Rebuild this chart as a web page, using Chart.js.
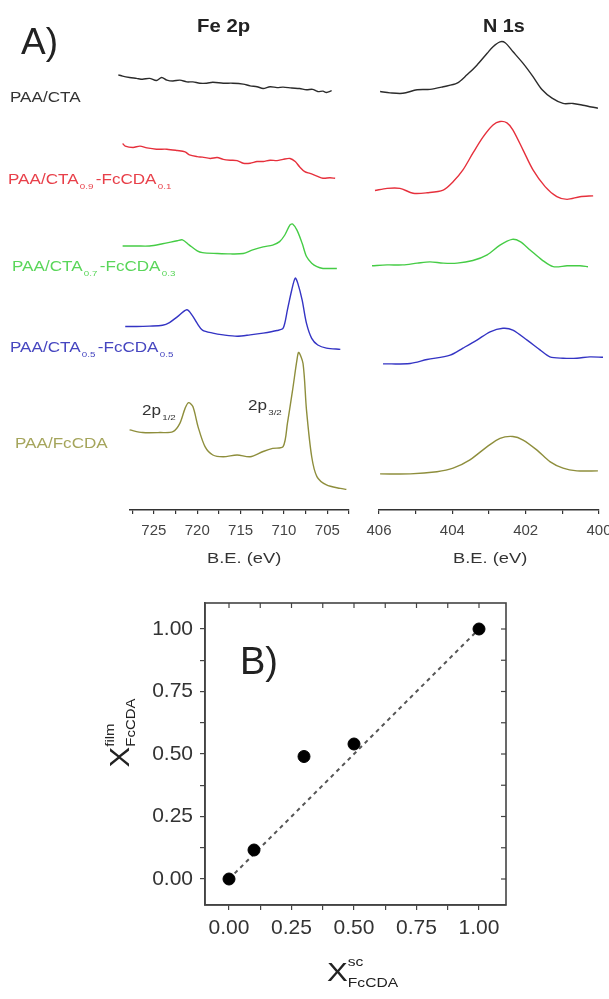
<!DOCTYPE html>
<html><head><meta charset="utf-8">
<script src="https://cdn.jsdelivr.net/npm/chart.js@4"></script>
<style>
body{margin:0;background:#fff;width:609px;height:999px;overflow:hidden;position:relative;font-family:'Liberation Sans',Arial,sans-serif;}
canvas{position:absolute;}
.t{position:absolute;white-space:nowrap;line-height:1;transform-origin:0 0;}
.lab{font-size:14px;transform:scaleX(1.22);}
.lab sub{font-size:8px;vertical-align:baseline;position:relative;top:5px;margin:0 2px 0 1px;}
.stack{display:inline-flex;flex-direction:column;vertical-align:middle;line-height:1;}
</style></head><body>
<canvas id="fe" width="360" height="575" style="left:0;top:0"></canvas>
<canvas id="n1s" width="249" height="575" style="left:360px;top:0"></canvas>
<canvas id="xy" width="609" height="419" style="left:0;top:580px"></canvas>

<div class="t" style="left:21px;top:23px;font-size:37px;color:#222">A)</div>
<div class="t" style="left:197px;top:17px;font-size:18px;font-weight:bold;color:#222;transform:scaleX(1.13)">Fe 2p</div>
<div class="t" style="left:483px;top:17px;font-size:18px;font-weight:bold;color:#222;transform:scaleX(1.1)">N 1s</div>

<div class="t lab" style="left:10px;top:90px;color:#333">PAA/CTA</div>
<div class="t lab" style="left:8px;top:172px;color:#e8404a">PAA/CTA<sub>0.9</sub>-FcCDA<sub>0.1</sub></div>
<div class="t lab" style="left:12px;top:259px;color:#5ad65a">PAA/CTA<sub>0.7</sub>-FcCDA<sub>0.3</sub></div>
<div class="t lab" style="left:10px;top:340px;color:#4646c0">PAA/CTA<sub>0.5</sub>-FcCDA<sub>0.5</sub></div>
<div class="t lab" style="left:15px;top:436px;color:#a5a55c">PAA/FcCDA</div>

<div class="t lab" style="left:142px;top:403px;color:#333">2p<sub style="font-size:8px">1/2</sub></div>
<div class="t lab" style="left:248px;top:398px;color:#333">2p<sub style="font-size:8px">3/2</sub></div>

<div class="t" style="left:207px;top:550px;font-size:15px;color:#333;transform:scaleX(1.22)">B.E. (eV)</div>
<div class="t" style="left:453px;top:550px;font-size:15px;color:#333;transform:scaleX(1.22)">B.E. (eV)</div>

<div class="t" style="left:240px;top:642px;font-size:38px;color:#222">B)</div>

<div class="t" style="left:80px;top:708px;width:80px;height:50px;transform-origin:50% 50%;transform:rotate(-90deg) scaleX(1.15);display:flex;align-items:center;justify-content:center;color:#222">
  <span style="font-size:27px">X</span><span class="stack" style="font-size:13px"><span style="margin-bottom:8px">film</span><span>FcCDA</span></span>
</div>
<div class="t" style="left:327px;top:955px;display:flex;align-items:center;color:#222;transform:scaleX(1.2)">
  <span style="font-size:26px">X</span><span class="stack" style="font-size:13px"><span style="margin-bottom:8px">sc</span><span>FcCDA</span></span>
</div>

<script>
// ---------- Panel A data (binding energy in eV, intensity in a.u.) ----------
const sampleNames = ['PAA/CTA','PAA/CTA0.9-FcCDA0.1','PAA/CTA0.7-FcCDA0.3','PAA/CTA0.5-FcCDA0.5','PAA/FcCDA'];

// Fe 2p
const fe_be_0 = [729.1,728.6,727.8,727.0,726.3,725.5,724.7,724.1,723.5,722.8,722.0,721.2,720.5,719.7,718.9,718.2,717.0,715.9,714.7,713.9,713.1,712.4,711.6,710.8,710.1,709.1,708.2,707.4,706.7,706.1,705.5,705.1,704.5];
const fe_int_0 = [8.9,8.6,8.3,8.1,7.9,8.1,7.6,8.3,7.7,7.5,7.7,7.3,7.3,7.0,7.0,7.2,7.0,7.0,6.8,6.4,6.2,5.8,6.2,6.0,6.1,5.9,5.8,5.5,5.6,5.1,5.2,4.9,5.3];
const fe_be_1 = [728.6,728.3,727.4,726.6,725.8,724.7,723.5,722.3,721.4,720.9,720.0,719.4,718.5,717.7,717.0,716.2,715.4,714.7,713.9,713.1,712.4,711.6,710.8,710.1,709.3,708.7,708.2,707.6,707.0,706.2,705.5,704.7,704.1];
const fe_int_1 = [9.3,8.7,8.4,8.7,8.3,8.0,8.0,7.7,7.4,6.7,6.3,6.2,5.9,6.1,5.7,5.5,5.4,4.8,4.8,5.2,5.2,5.5,5.4,5.7,5.9,5.2,4.0,2.9,2.5,1.9,1.4,1.5,1.4];
const fe_be_2 = [728.6,727.0,725.5,724.0,722.3,721.7,720.9,720.0,719.4,717.7,716.2,714.7,713.6,712.4,711.3,710.5,709.9,709.3,709.0,708.5,707.9,707.4,706.8,706.2,705.5,704.7,703.9];
const fe_int_2 = [6.0,6.0,6.0,6.5,7.2,7.4,6.2,4.9,4.5,4.3,4.2,4.3,5.1,5.8,6.2,7.0,8.5,10.8,11.0,9.6,6.6,3.6,2.1,1.3,0.9,0.9,0.9];
const fe_be_3 = [728.3,727.0,725.5,724.0,723.2,722.3,721.2,720.6,720.0,719.4,718.2,717.0,715.4,713.9,712.4,710.8,710.1,709.6,709.1,708.7,708.4,707.9,707.4,706.8,706.1,705.1,703.5];
const fe_int_3 = [5.7,5.7,5.8,6.0,6.6,7.9,9.5,8.3,6.4,4.9,4.2,3.8,3.5,3.8,4.2,4.8,5.3,9.5,14.0,16.7,15.5,11.7,6.4,3.0,1.5,0.8,0.5];
const fe_be_4 = [727.8,726.3,724.3,722.8,722.0,721.4,721.0,720.5,719.9,719.1,718.2,717.0,715.4,713.9,712.4,711.3,710.1,709.6,709.0,708.5,708.3,707.8,707.4,706.8,706.2,705.1,703.5,702.8];
const fe_int_4 = [14.2,13.6,13.6,13.8,15.7,19.1,20.4,19.5,14.9,10.4,8.5,8.1,8.5,8.1,9.3,10.0,10.4,15.7,23.3,30.1,31.8,29.3,18.7,8.1,3.6,1.7,0.9,0.7];
const fe_offsets = [90,74,54,36,4];

// N 1s
const n_be_0 = [405.97,405.70,405.35,404.96,404.61,404.25,403.87,403.60,403.33,403.05,402.89,402.70,402.56,402.35,402.07,401.80,401.55,401.28,400.98,400.71,400.44,400.03];
const n_int_0 = [7.1,6.8,6.7,7.5,7.6,8.2,9.0,10.9,13.1,15.8,17.3,18.4,18.2,16.2,13.5,10.5,7.5,5.6,4.4,4.4,4.0,3.3];
const n_be_1 = [406.11,405.78,405.43,405.07,404.69,404.25,403.98,403.71,403.44,403.16,402.89,402.70,402.51,402.35,402.07,401.80,401.47,401.15,400.87,400.52,400.16];
const n_int_1 = [4.6,5.1,5.1,4.0,4.1,4.7,6.6,9.3,13.1,16.8,19.5,20.3,20.0,18.4,13.8,9.3,5.5,3.2,2.6,3.2,3.4];
const n_be_2 = [406.19,405.78,405.35,404.96,404.61,404.25,403.87,403.44,403.05,402.70,402.37,402.15,401.88,401.55,401.25,400.87,400.52,400.30];
const n_int_2 = [5.5,5.7,5.7,6.1,6.4,6.1,6.1,6.7,8.0,10.2,11.5,11.0,9.1,6.8,5.3,5.5,5.5,5.3];
const n_be_3 = [405.89,405.15,404.69,404.06,403.71,403.33,402.97,402.62,402.35,401.96,401.61,401.34,400.98,400.60,400.25,399.89];
const n_int_3 = [3.2,3.3,4.2,5.2,6.8,8.6,10.5,11.3,10.9,8.6,6.4,4.8,4.5,4.5,4.8,4.7];
const n_be_4 = [405.97,405.15,404.42,403.98,403.52,403.05,402.70,402.35,402.07,401.69,401.34,400.98,400.60,400.03];
const n_int_4 = [4.2,4.2,4.7,5.5,7.4,10.4,12.3,12.7,11.9,9.6,7.0,5.5,4.9,4.9];
const n_offsets = [88,68,50,30,4];

// Tick values
const feMajorTicks = [725,720,715,710,705];
const feMinorTicks = [727.5,722.5,717.5,712.5,707.5,702.5];
const nMajorTicks = [406,404,402,400];
const nMinorTicks = [405,403,401];

// ---------- Panel B data ----------
const xSolution = [0, 0.1, 0.3, 0.5, 1.0];
const xFilm = [0, 0.116, 0.49, 0.54, 1.0];
const idealX = [0, 1];
const idealY = [0, 1];
const bMajorTicks = [0, 0.25, 0.5, 0.75, 1.0];
const bMinorTicks = [0.125, 0.375, 0.625, 0.875];

// ---------- styles ----------
const colors = ['#2b2b2b','#e6303c','#45cc45','#3434c4','#8e8e3c'];

const feBE = [fe_be_0,fe_be_1,fe_be_2,fe_be_3,fe_be_4];
const feInt = [fe_int_0,fe_int_1,fe_int_2,fe_int_3,fe_int_4];
const nBE = [n_be_0,n_be_1,n_be_2,n_be_3,n_be_4];
const nInt = [n_int_0,n_int_1,n_int_2,n_int_3,n_int_4];

function spectra(beArr, intArr, offs){
  return beArr.map((be,k)=>({
    label: sampleNames[k],
    data: be.map((x,i)=>({x, y: intArr[k][i] + offs[k]})),
    borderColor: colors[k], borderWidth: 1.4, pointRadius: 0, tension: 0.3, clip: false, fill: false
  }));
}

const axisColor = '#333';
function xAxis(min, max, majors, minors, fontSize){
  return {
    type:'linear', reverse:true, min, max,
    afterBuildTicks: s => { s.ticks = majors.concat(minors).sort((a,b)=>a-b).map(v=>({value:v})); },
    afterFit: s => { s.height = 65; s.paddingLeft = 0; s.paddingRight = 0; },
    ticks:{ autoSkip:false, maxRotation:0, color:'#444', padding:8, font:{size:fontSize, family:"'Liberation Sans',Arial,sans-serif"},
      callback: v => majors.includes(v) ? String(v) : '' },
    grid:{ drawOnChartArea:false, drawTicks:true, tickLength:4, color:axisColor, lineWidth:1.2 },
    border:{ display:true, color:axisColor, width:1.6 }
  };
}
const common = {
  responsive:false, animation:false, events:[],
  plugins:{ legend:{display:false}, tooltip:{enabled:false} }
};

new Chart(document.getElementById('fe'), {
  type:'line',
  data:{ datasets: spectra(feBE, feInt, fe_offsets) },
  options:Object.assign({}, common, {
    layout:{ padding:{ left:130, right:11, top:70, bottom:0 } },
    scales:{ x: xAxis(702.5, 727.75, feMajorTicks, feMinorTicks, 15), y:{ display:false, min:0, max:100 } }
  })
});

new Chart(document.getElementById('n1s'), {
  type:'line',
  data:{ datasets: spectra(nBE, nInt, n_offsets) },
  options:Object.assign({}, common, {
    layout:{ padding:{ left:19, right:10, top:70, bottom:0 } },
    scales:{ x: xAxis(400, 406, nMajorTicks, nMinorTicks, 15), y:{ display:false, min:0, max:100 } }
  })
});

const framePlugin = {
  id:'frame',
  afterDatasetsDraw(chart){
    const {ctx, chartArea:a, scales:{x, y}} = chart;
    ctx.save();
    ctx.strokeStyle = '#444'; ctx.lineWidth = 1.6;
    ctx.strokeRect(a.left, a.top, a.right-a.left, a.bottom-a.top);
    ctx.lineWidth = 1.2;
    bMajorTicks.concat(bMinorTicks).forEach(v=>{
      const px = x.getPixelForValue(v);
      ctx.beginPath(); ctx.moveTo(px, a.top); ctx.lineTo(px, a.top+5); ctx.stroke();
      const py = y.getPixelForValue(v);
      ctx.beginPath(); ctx.moveTo(a.right, py); ctx.lineTo(a.right-5, py); ctx.stroke();
    });
    ctx.restore();
  }
};

function bAxis(min, max, isX){
  return {
    type:'linear', min, max, position: isX ? 'bottom' : 'left',
    afterBuildTicks: s => { s.ticks = bMajorTicks.concat(bMinorTicks).sort((a,b)=>a-b).map(v=>({value:v})); },
    afterFit: s => { if(isX){ s.height = 94; } else { s.width = 205; } s.paddingLeft=0; s.paddingRight=0; s.paddingTop=0; s.paddingBottom=0; },
    ticks:{ autoSkip:false, maxRotation:0, color:'#333', padding: isX ? 6 : 7, font:{size:21, family:"'Liberation Sans',Arial,sans-serif"},
      callback: v => bMajorTicks.includes(v) ? v.toFixed(2) : '' },
    grid:{ drawOnChartArea:false, drawTicks:true, tickLength:5, color:'#444', lineWidth:1.2 },
    border:{ display:true, color:'#444', width:1.6 }
  };
}

new Chart(document.getElementById('xy'), {
  type:'scatter',
  data:{ datasets:[
    { type:'line', label:'ideal', data: idealX.map((v,i)=>({x:v, y:idealY[i]})), borderColor:'#555', borderWidth:2, borderDash:[4,4], pointRadius:0, order:2 },
    { type:'scatter', label:'XPS', data: xSolution.map((v,i)=>({x:v, y:xFilm[i]})), backgroundColor:'#000', borderColor:'#000', pointRadius:6, order:1 }
  ]},
  options:Object.assign({}, common, {
    layout:{ padding:{ left:0, right:103, top:23, bottom:0 } },
    scales:{ x: bAxis(-0.096, 1.108, true), y: bAxis(-0.104, 1.104, false) }
  }),
  plugins:[framePlugin]
});
</script>
</body></html>
